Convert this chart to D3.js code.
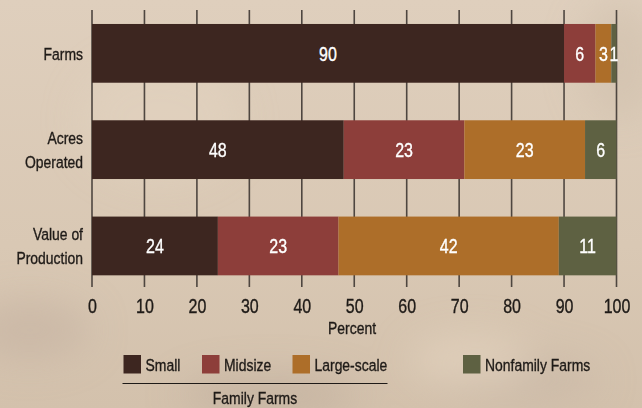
<!DOCTYPE html>
<html>
<head>
<meta charset="utf-8">
<script src="https://cdn.jsdelivr.net/npm/d3@7"></script>
<style>
  html, body { margin: 0; padding: 0; }
  body { width: 642px; height: 408px; overflow: hidden; }
  svg text { font-family: "Liberation Sans", Arial, sans-serif; }
</style>
</head>
<body>
<svg id="chart" width="642" height="408"></svg>
<script>
// ---- data ----
const categories = ["Farms", "Acres Operated", "Value of Production"];
const categoryLines = [["Farms"], ["Acres", "Operated"], ["Value of", "Production"]];
const seriesNames = ["Small", "Midsize", "Large-scale", "Nonfamily Farms"];
const small      = [90, 48, 24];
const midsize    = [6, 23, 23];
const largeScale = [3, 23, 42];
const nonfamily  = [1, 6, 11];
const tickValues = [0, 10, 20, 30, 40, 50, 60, 70, 80, 90, 100];
const xAxisTitle = "Percent";
const familyGroupLabel = "Family Farms";
const colors = ["#3d2620", "#8d3e3a", "#ad6e29", "#5e6142"];

const SX = 0.82;          // condensed look
const DSX = 0.8;          // digits
const ink = "#1e1a17";
const svg = d3.select("#chart");

function placeText(sel, tx, ty, sx) {
  return sel.attr("x", 0).attr("y", 0).attr("transform", `translate(${tx},${ty}) scale(${sx},1)`);
}
function heavy(sel, color) {
  return sel.attr("stroke", color).attr("stroke-width", 0.35).attr("paint-order", "stroke");
}

// ---- background (soft textured beige) ----
const defs = svg.append("defs");
const bg = defs.append("linearGradient").attr("id", "bg").attr("x1", 0).attr("y1", 0).attr("x2", 0).attr("y2", 1);
bg.append("stop").attr("offset", "0%").attr("stop-color", "#dfcfbd");
bg.append("stop").attr("offset", "60%").attr("stop-color", "#d9c8b4");
bg.append("stop").attr("offset", "100%").attr("stop-color", "#d3c1ac");
defs.append("filter").attr("id", "blur").attr("x", "-50%").attr("y", "-50%").attr("width", "200%").attr("height", "200%")
  .append("feGaussianBlur").attr("stdDeviation", 18);
svg.append("rect").attr("width", 642).attr("height", 408).attr("fill", "url(#bg)");
const blobs = svg.append("g").attr("filter", "url(#blur)");
[[30, 330, 60, 30, "#c4b3a1", 0.6], [270, 395, 90, 20, "#b9a897", 0.5], [520, 380, 80, 25, "#c6b6a5", 0.5],
 [620, 60, 40, 60, "#cdbdaa", 0.5], [470, 360, 60, 25, "#e6d6c2", 0.6], [160, 120, 80, 60, "#e4d4c1", 0.5]]
  .forEach(b => blobs.append("ellipse").attr("cx", b[0]).attr("cy", b[1]).attr("rx", b[2]).attr("ry", b[3])
    .attr("fill", b[4]).attr("opacity", b[5]));

// ---- scales ----
const x = d3.scaleLinear().domain([0, 100]).range([92, 616.5]);
const y = d3.scaleBand().domain(categories).range([5.2, 294.1]).paddingInner(0.39).paddingOuter(0.195);
const gridTop = 10, gridBottom = 287;

// gridlines
svg.append("g").selectAll("line").data(tickValues).join("line")
  .attr("x1", d => x(d)).attr("x2", d => x(d))
  .attr("y1", gridTop).attr("y2", gridBottom)
  .attr("stroke", "#4e4640").attr("stroke-width", 1.6);

// stacked bars
const table = categories.map((c, i) => ({
  category: c, Small: small[i], Midsize: midsize[i], "Large-scale": largeScale[i], "Nonfamily Farms": nonfamily[i]
}));
const stacked = d3.stack().keys(seriesNames)(table);
const layers = svg.append("g").selectAll("g").data(stacked).join("g")
  .attr("fill", (d, i) => colors[i]);
layers.selectAll("rect").data(d => d).join("rect")
  .attr("x", d => x(d[0]))
  .attr("width", d => x(d[1]) - x(d[0]))
  .attr("y", d => y(d.data.category))
  .attr("height", y.bandwidth());
heavy(layers.selectAll("text").data(d => d).join("text")
  .each(function (d) {
    placeText(d3.select(this), (x(d[0]) + x(d[1])) / 2, y(d.data.category) + y.bandwidth() / 2 + 7.2, DSX);
  })
  .attr("text-anchor", "middle")
  .attr("fill", "#ffffff")
  .attr("font-size", 20)
  .text(d => d[1] - d[0]), "#ffffff");

// x axis tick labels
const xAxis = d3.axisBottom(x).tickValues(tickValues).tickSize(0).tickPadding(0);
const gx = svg.append("g").attr("transform", `translate(0,${gridBottom})`).call(xAxis);
gx.select(".domain").remove();
heavy(gx.selectAll("text").attr("font-size", 20).attr("fill", ink)
  .attr("dy", null)
  .each(function () { placeText(d3.select(this), 0, 26, DSX); })
  .style("font-family", "'Liberation Sans', Arial, sans-serif"), ink);

heavy(placeText(svg.append("text"), 352, 334, SX).attr("text-anchor", "middle")
  .attr("font-size", 17).attr("fill", ink).text(xAxisTitle), ink);

// category labels
const catG = svg.append("g");
categories.forEach((c, i) => {
  const lines = categoryLines[i];
  const cy = y(c) + y.bandwidth() / 2;
  const lh = 24;
  lines.forEach((ln, j) => {
    heavy(placeText(catG.append("text"), 83, cy + (j - (lines.length - 1) / 2) * lh + 6.2, SX)
      .attr("text-anchor", "end").attr("font-size", 17).attr("fill", ink).text(ln), ink);
  });
});

// legend
const legendItems = [
  { name: seriesNames[0], color: colors[0], x: 123.5 },
  { name: seriesNames[1], color: colors[1], x: 202 },
  { name: seriesNames[2], color: colors[2], x: 292.5 },
  { name: seriesNames[3], color: colors[3], x: 463 }
];
const lg = svg.append("g");
legendItems.forEach(it => {
  lg.append("rect").attr("x", it.x).attr("y", 355).attr("width", 17.5).attr("height", 18.5).attr("fill", it.color);
  heavy(placeText(lg.append("text"), it.x + 22, 371, SX).attr("font-size", 17).attr("fill", ink).text(it.name), ink);
});
lg.append("line").attr("x1", 122.5).attr("x2", 387.5).attr("y1", 383.5).attr("y2", 383.5)
  .attr("stroke", ink).attr("stroke-width", 1.2);
heavy(placeText(lg.append("text"), 255, 404, SX).attr("text-anchor", "middle")
  .attr("font-size", 17).attr("fill", ink).text(familyGroupLabel), ink);
</script>
</body>
</html>
